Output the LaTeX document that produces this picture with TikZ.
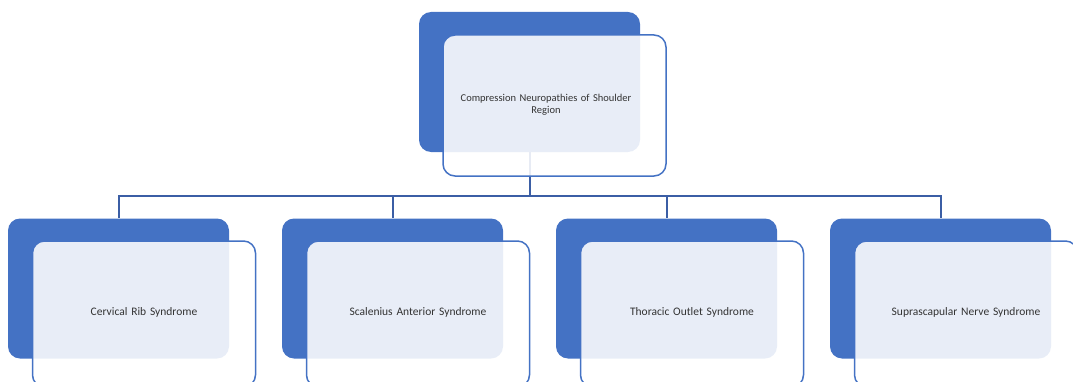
\documentclass[tikz,border=0pt]{standalone}
\usepackage{fontspec}
\setmainfont{Carlito}
\usetikzlibrary{positioning}

\definecolor{accent}{HTML}{4472C4}
\definecolor{linkblue}{HTML}{3B5EA5}

\tikzset{
    backbox/.style={fill=accent, draw=none, rounded corners=12pt, minimum width=221pt, minimum height=140pt, inner sep=0pt},
    frontbox/.style={draw=accent, line width=1.5pt, fill=white, fill opacity=0.88, rounded corners=12pt, minimum width=223pt, minimum height=141pt, inner sep=0pt},
    label/.style={font=\fontsize{11.5}{13.5}\selectfont, text=black!80, align=center, text width=200pt, inner sep=0pt},
    link/.style={linkblue, line width=2pt}
}

\begin{document}
\begin{tikzpicture}[x=1pt, y=1pt]
    \useasboundingbox (0,0) rectangle (1073,381);

    % top of the tree
    \node [backbox] at (529.5, 299) (root) {};
    \coordinate (bus) at (0, 185);

    % the four branches
    \foreach \i/\name in {0/crs, 1/sas, 2/tos, 3/sns} {
        \node [backbox] at (118.5+274*\i, 92.5) (\name) {};
        \draw [link] (root.south) |- (bus -| \name.north) -- (\name.north);
    }

    \node [frontbox] at (554.5, 275.5) (rootf) {};
    \node [label, font=\fontsize{10.5}{12.5}\selectfont] at (546, 276) (roott) {Compression Neuropathies of Shoulder\\Region};

    % front boxes of the branches run past the lower edge
    \node [frontbox, minimum height=146pt] at (144, 67) (crsf) {};
    \node [label] at (144, 69) (crst) {Cervical Rib Syndrome};
    \node [frontbox, minimum height=146pt] at (418, 67) (sasf) {};
    \node [label] at (418, 69) (sast) {Scalenius Anterior Syndrome};
    \node [frontbox, minimum height=146pt] at (692, 67) (tosf) {};
    \node [label] at (692, 69) (tost) {Thoracic Outlet Syndrome};
    \node [frontbox, minimum height=146pt] at (966, 67) (snsf) {};
    \node [label] at (966, 69) (snst) {Suprascapular Nerve Syndrome};
\end{tikzpicture}
\end{document}
